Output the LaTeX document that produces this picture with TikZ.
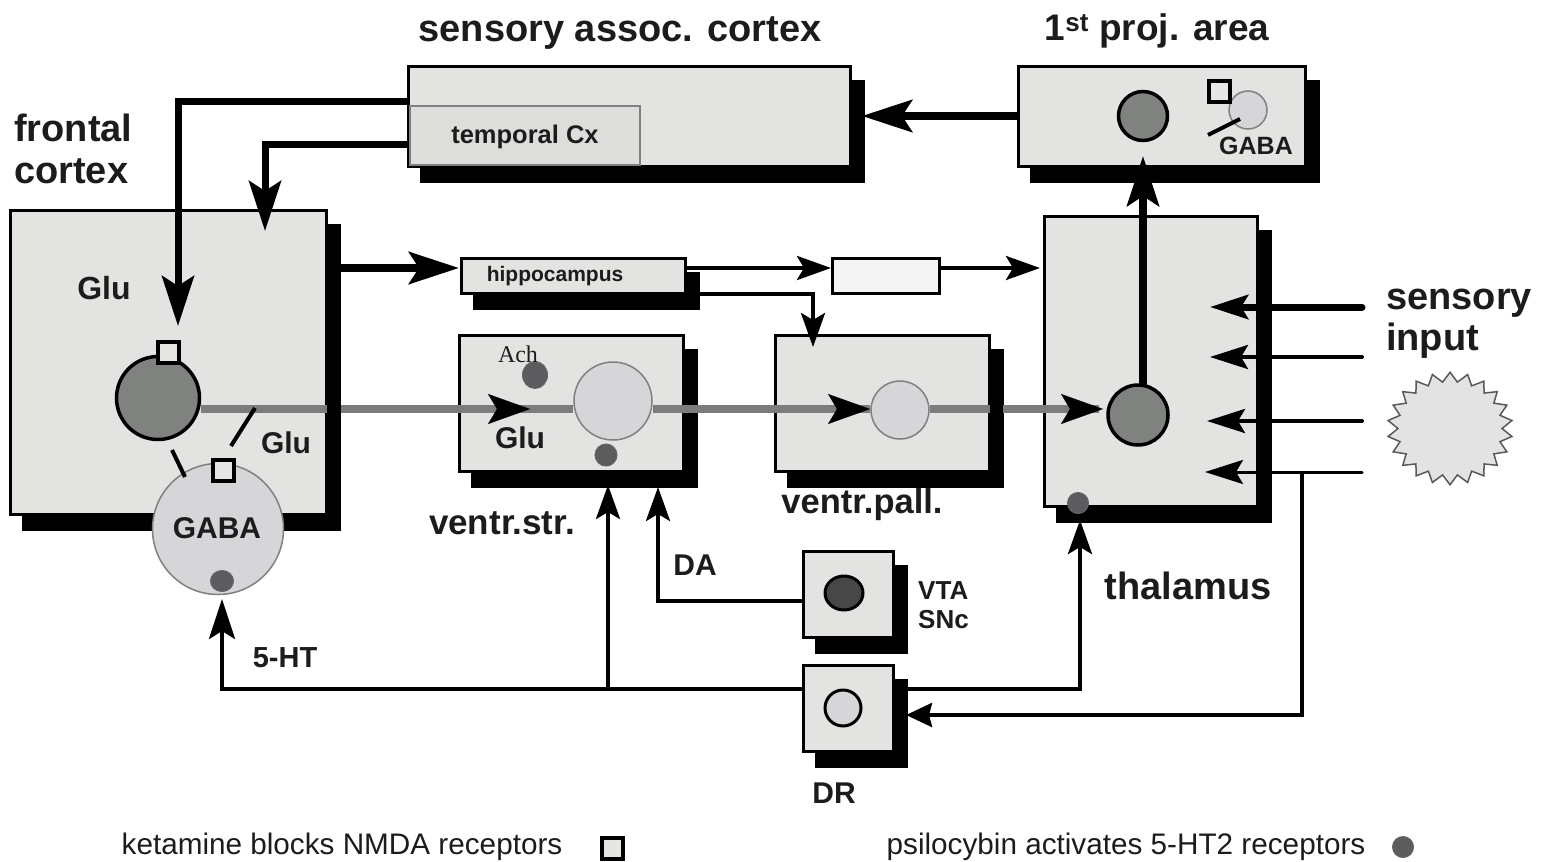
\documentclass[tikz,border=0pt]{standalone}
\usepackage{fontspec}
\setmainfont{Liberation Sans}
\newfontfamily\achfont{Liberation Serif}
\usetikzlibrary{arrows.meta,shadows,shapes.geometric,calc}

\definecolor{boxgray}{HTML}{E3E4E2}
\definecolor{tempgray}{HTML}{DDDEDC}
\definecolor{cellgray}{HTML}{808280}
\definecolor{palegray}{HTML}{D6D5D8}
\definecolor{dotgray}{HTML}{5C5C5E}
\definecolor{axongray}{HTML}{7C7C7C}
\definecolor{txtgray}{HTML}{1C1C1C}

\tikzset{
    mybox/.style={rectangle,draw,line width=3pt,fill=boxgray,inner sep=0pt,
        drop shadow={shadow xshift=13.5pt,shadow yshift=-15pt,fill=black,draw=black,opacity=1}},
    cell/.style={circle,draw,line width=3.5pt,fill=cellgray,inner sep=0pt},
    palecell/.style={circle,draw=gray,line width=1.5pt,fill=palegray,inner sep=0pt},
    blob/.style={ellipse,fill=dotgray,draw=black!60,line width=1pt,inner sep=0pt},
    receptor/.style={rectangle,draw,line width=4pt,fill=boxgray!90!white,inner sep=0pt,minimum size=21pt},
    bigarrow/.style={line width=8pt,-{Stealth[length=50pt,width=32pt,inset=10pt]}},
    midarrow/.style={line width=4pt,-{Stealth[length=34pt,width=24pt,inset=7pt]}},
    axon/.style={line width=8pt,draw=axongray},
    bar/.style={line width=4pt},
    lab/.style={font=\bfseries\fontsize{#1}{#1}\selectfont,inner sep=0pt,text=txtgray},
    plain/.style={font=\fontsize{#1}{#1}\selectfont,inner sep=0pt,text=txtgray}
}

\begin{document}
\begin{tikzpicture}[x=1pt,y=-1pt]
    \useasboundingbox (0,0) rectangle (1542,862);

    % Draw boxes
    \node (frontal) at (168,362) [mybox,minimum width=316pt,minimum height=304pt] {};
    \node (sensory) at (629,116) [mybox,minimum width=442pt,minimum height=100pt] {};
    \node (temporal) at (525,135.5) [rectangle,draw=gray,line width=1.5pt,fill=tempgray,inner sep=0pt,
        minimum width=230pt,minimum height=59pt] {};
    \node (proj) at (1161.5,116) [mybox,minimum width=287pt,minimum height=100pt] {};
    \node (thal) at (1150.5,361) [mybox,minimum width=213pt,minimum height=290pt] {};
    \node (hippo) at (573,275.5) [mybox,minimum width=224pt,minimum height=35pt] {};
    \node (str) at (571,403) [mybox,minimum width=224pt,minimum height=136pt] {};
    \node (pall) at (882,403) [mybox,minimum width=214pt,minimum height=136pt] {};
    \node (relay) at (885.5,275.5) [rectangle,draw,line width=3pt,fill=black!4,inner sep=0pt,
        minimum width=107pt,minimum height=35pt] {};
    \node (vta) at (848,594) [mybox,minimum width=90pt,minimum height=86pt] {};
    \node (dr) at (848,708) [mybox,minimum width=90pt,minimum height=86pt] {};

    % Draw cells
    \node (gluN) at (158,398) [cell,minimum size=83pt] {};
    \node (gabaN) at (218,529) [palecell,minimum size=131pt] {};
    \node (strN) at (613,401) [palecell,minimum size=78pt] {};
    \node (pallN) at (900,410) [palecell,minimum size=58pt] {};
    \node (thalN) at (1138,415) [cell,minimum size=60pt] {};
    \node (projN) at (1143,116) [cell,minimum size=49pt] {};
    \node (projG) at (1248,110) [palecell,minimum size=38pt] {};
    \node (vtaN) at (844,593) [ellipse,draw,line width=3pt,fill=black!72,inner sep=0pt,
        minimum width=38pt,minimum height=34pt] {};
    \node (drN) at (843,708) [circle,draw,line width=3pt,fill=palegray,inner sep=0pt,minimum size=36pt] {};

    % Draw axons, the shadows stay on top
    \foreach \t/\name in {530/tipStr,870/tipPall,1103/tipThal} {
        \coordinate (\name) at (\t,409);
    }
    \draw[axon] (gluN.east |- tipStr) -- (strN.west |- tipStr);
    \draw[axon] (strN.east |- tipStr) -- (pallN.west |- tipStr);
    \draw[axon] (pallN.east |- tipStr) -- ([xshift=-4pt]tipThal);
    \fill (327,404) rectangle (341,414);
    \fill (990,404) rectangle (1003,414);
    \foreach \name in {tipStr,tipPall,tipThal} {
        \draw[line width=.1pt,-{Stealth[length=42pt,width=30pt,inset=9pt]}] ([xshift=-2pt]\name) -- (\name);
    }

    % Draw receptors and dots
    \node (nmdaA) at (168,352) [receptor] {};
    \node (nmdaB) at (223,470) [receptor] {};
    \node (nmdaC) at (1219,91) [receptor] {};
    \node (nmdaKey) at (612,848) [receptor] {};
    \node (ach) at (535,375) [blob,minimum width=25pt,minimum height=27pt] {};
    \node (htStr) at (606,455) [blob,minimum size=22pt] {};
    \node (htGaba) at (222,581) [blob,minimum width=23pt,minimum height=21pt] {};
    \node (htThal) at (1078,503) [blob,minimum size=21pt] {};
    \node (htKey) at (1403,847) [blob,minimum size=21pt] {};
    \node (stim) at (1450,428.5) [star,star points=22,star point ratio=1.2,draw=black!65,line width=1.5pt,
        fill=black!11,inner sep=0pt,minimum size=125pt,yscale=.9] {};

    % Draw bars
    \draw[bar] (172,450) -- (185,477);
    \draw[bar] (231,446) -- (255,408);
    \draw[bar] (1208,135) -- (1240,119);

    % Draw connectors
    \coordinate (gluIn) at (178,326);
    \coordinate (frontIn) at (265,231);
    \coordinate (hipIn) at (459,268);
    \coordinate (relayIn) at (831,268);
    \coordinate (thalIn) at (1040,268);
    \coordinate (pallIn) at (813,347);
    \coordinate (fork) at (1302,472);
    \coordinate (gabaIn) at (222,599);
    \draw[line width=7pt,-{Stealth[length=50pt,width=32pt,inset=10pt]}] ([yshift=15pt]sensory.west) -| (gluIn);
    \draw[line width=7pt,-{Stealth[length=50pt,width=32pt,inset=10pt]}] ([yshift=-28pt]sensory.west) -| (frontIn);
    \draw[bigarrow] (proj.west) -- (862,116);
    \draw[bigarrow] (frontal.east |- hipIn) -- (hipIn);
    \draw[bigarrow] (1143,385) -- (1143,156);
    \draw[midarrow] (hippo.east |- hipIn) -- (relayIn);
    \draw[midarrow] (relay.east |- thalIn) -- (thalIn);
    \draw[midarrow] (hippo.east |- 0,294) -| (pallIn);

    \foreach \y/\w/\t in {307/7/1210,357/4/1210,421/4/1207,472/3/1205} {
        \draw[line width=\w pt,line cap=round,-{Stealth[length=38pt,width=24pt,inset=7pt]}] (1362,\y) -- (\t,\y);
    }
    \draw[midarrow,-{Stealth[length=26pt,width=24pt,inset=3pt]}]
        (fork) -- (1302,715) -- (906,715);
    \draw[midarrow,-{Stealth[length=40pt,width=26pt,inset=8pt]}] (dr.west |- 0,689) -| (gabaIn);
    \draw[midarrow] (608,689) -- (608,485);
    \draw[midarrow] (dr.east |- 0,689) -| (1080,520);
    \draw[midarrow] (vta.west |- 0,601) -| (658,487);

    % Draw labels
    \node (tSens) at (620,33) [lab=38] {sensory assoc. cortex};
    \node (tProj) at (1157,31) [lab=37] {1\textsuperscript{st} proj. area};
    \node (tFront) at (14,149) [lab=38,anchor=west,align=left] {frontal\\[4pt]cortex};
    \node (tGluA) at (104,288) [lab=32] {Glu};
    \node (tGluB) at (286,443) [lab=30] {Glu};
    \node (tGaba) at (217,528) [lab=30] {GABA};
    \node (tTemp) at (525,137) [lab=25.5] {temporal Cx};
    \node (tHip) at (555,276) [lab=21] {hippocampus};
    \node (tAch) at (518,354) [font=\achfont\fontsize{24}{24}\selectfont,inner sep=0pt,text=txtgray] {Ach};
    \node (tGluC) at (520,438) [lab=30] {Glu};
    \node (tStr) at (502,523) [lab=35] {ventr.str.};
    \node (tPall) at (862,505) [lab=34.5] {ventr.pall.};
    \node (tDA) at (695,565) [lab=30] {DA};
    \node (tVta) at (918,605) [lab=26,anchor=west,align=left] {VTA\\[3pt]SNc};
    \node (tHT) at (285,658) [lab=29] {5-HT};
    \node (tThal) at (1188,586) [lab=38] {thalamus};
    \node (tInput) at (1386,324) [lab=38,anchor=west,align=left] {sensory\\[3pt]input};
    \node (tGabaP) at (1256,146) [lab=25] {GABA};
    \node (tDR) at (834,793) [lab=30] {DR};
    \node (tKet) at (342,847) [plain=29.7] {ketamine blocks NMDA receptors};
    \node (tPsi) at (1126,847) [plain=29.7] {psilocybin activates 5-HT2 receptors};

\end{tikzpicture}
\end{document}
